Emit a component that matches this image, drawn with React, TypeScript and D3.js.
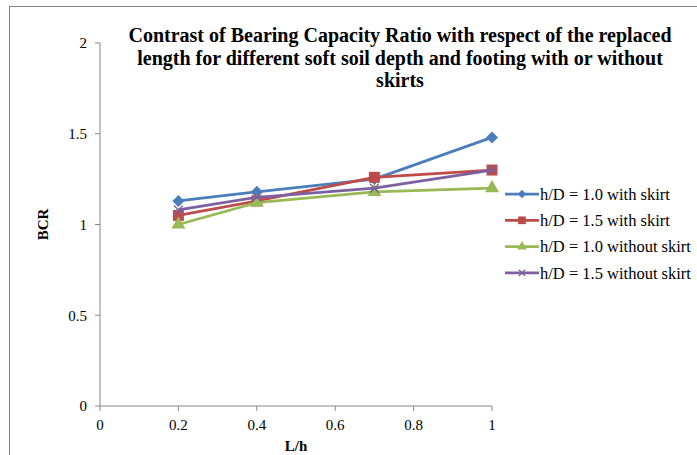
import React from "react";
import * as d3 from "d3";

// values
const xValues = [0.2, 0.4, 0.7, 1.0];
const blueWithSkirt10 = [1.13, 1.18, 1.25, 1.48];
const redWithSkirt15 = [1.05, 1.13, 1.26, 1.3];
const greenWithout10 = [1.0, 1.12, 1.18, 1.2];
const purpleWithout15 = [1.08, 1.15, 1.2, 1.3];
const xTicks = [0, 0.2, 0.4, 0.6, 0.8, 1];
const yTicks = [0, 0.5, 1, 1.5, 2];
const titleLines = [
  "Contrast of Bearing Capacity Ratio with respect of the replaced",
  "length for different soft soil depth and footing with or without",
  "skirts",
];

const series = [
  { name: "h/D = 1.0 with skirt", values: blueWithSkirt10, color: "#4A7EBB", marker: "diamond" },
  { name: "h/D = 1.5 with skirt", values: redWithSkirt15, color: "#BE4B48", marker: "square" },
  { name: "h/D = 1.0 without skirt", values: greenWithout10, color: "#98B954", marker: "triangle" },
  { name: "h/D = 1.5 without skirt", values: purpleWithout15, color: "#7D60A0", marker: "x" },
];

const W = 697;
const H = 455;
const FONT = "'Liberation Serif', 'Times New Roman', serif";
const AXIS = "#868686";

function Marker({ type, x, y, color, small }: { type: string; x: number; y: number; color: string; small?: boolean }) {
  const k = small ? 0.7 : 1;
  if (type === "diamond") {
    // square turned 45 degrees
    const p = d3.symbol(d3.symbolSquare, 72 * k * k)();
    return <path d={p || ""} transform={`translate(${x},${y}) rotate(45)`} fill={color} />;
  }
  if (type === "square") {
    const s = 11 * k;
    return <rect x={x - s / 2} y={y - s / 2} width={s} height={s} fill={color} />;
  }
  if (type === "triangle") {
    const p = d3.symbol(d3.symbolTriangle, 85 * k * k)();
    return <path d={p || ""} transform={`translate(${x},${y})`} fill={color} />;
  }
  const r = 4.5 * k;
  return (
    <g stroke={color} strokeWidth={1.3}>
      <line x1={x - r} y1={y - r} x2={x + r} y2={y + r} />
      <line x1={x - r} y1={y + r} x2={x + r} y2={y - r} />
    </g>
  );
}

export default function App() {
  const x = d3.scaleLinear().domain([0, 1]).range([100, 492]);
  const y = d3.scaleLinear().domain([0, 2]).range([406, 43]);

  const line = d3
    .line<number>()
    .x((_, i) => x(xValues[i]))
    .y((d) => y(d));

  return (
    <svg
      width={W}
      height={H}
      style={{ position: "absolute", left: 0, top: 0, background: "#fff" }}
      fontFamily={FONT}
    >
      {/* chart frame, cut off at the right and bottom */}
      <rect x={9.5} y={6.5} width={W + 10} height={H + 10} fill="#fff" stroke={AXIS} strokeWidth={1} />

      {/* title */}
      <text textAnchor="middle" fontWeight="bold" fontSize={20} fill="#000">
        {titleLines.map((t, i) => (
          <tspan key={i} x={400} y={42 + i * 22.5}>
            {t}
          </tspan>
        ))}
      </text>

      {/* y axis */}
      <line x1={x(0)} x2={x(0)} y1={y(2)} y2={y(0)} stroke={AXIS} />
      {yTicks.map((t) => (
        <g key={t}>
          <line x1={x(0) - 5} x2={x(0)} y1={y(t)} y2={y(t)} stroke={AXIS} />
          <text x={87} y={y(t)} dy="0.35em" textAnchor="end" fontSize={15} fill="#000">
            {t}
          </text>
        </g>
      ))}

      {/* x axis */}
      <line x1={x(0)} x2={x(1)} y1={y(0)} y2={y(0)} stroke={AXIS} />
      {xTicks.map((t) => (
        <g key={t}>
          <line x1={x(t)} x2={x(t)} y1={y(0)} y2={y(0) + 5} stroke={AXIS} />
          <text x={x(t)} y={430} textAnchor="middle" fontSize={15} fill="#000">
            {t}
          </text>
        </g>
      ))}

      {/* axis titles */}
      <text
        transform={`translate(48,${(y(0) + y(2)) / 2}) rotate(-90)`}
        textAnchor="middle"
        fontWeight="bold"
        fontSize={15}
        fill="#000"
      >
        BCR
      </text>
      <text x={296} y={451} textAnchor="middle" fontWeight="bold" fontSize={15} fill="#000">
        L/h
      </text>

      {/* series */}
      {series.map((s) => (
        <g key={s.name}>
          <path d={line(s.values) || ""} fill="none" stroke={s.color} strokeWidth={2.75} strokeLinejoin="round" />
          {s.values.map((v, i) => (
            <Marker key={i} type={s.marker} x={x(xValues[i])} y={y(v)} color={s.color} />
          ))}
        </g>
      ))}

      {/* legend */}
      {series.map((s, i) => {
        const ly = 194 + i * 26.3;
        return (
          <g key={s.name}>
            <line x1={505} x2={539} y1={ly} y2={ly} stroke={s.color} strokeWidth={2.75} />
            <Marker type={s.marker} x={522} y={ly} color={s.color} small />
            <text x={540} y={ly} dy="0.35em" fontSize={16.5} fill="#000">
              {s.name}
            </text>
          </g>
        );
      })}
    </svg>
  );
}
